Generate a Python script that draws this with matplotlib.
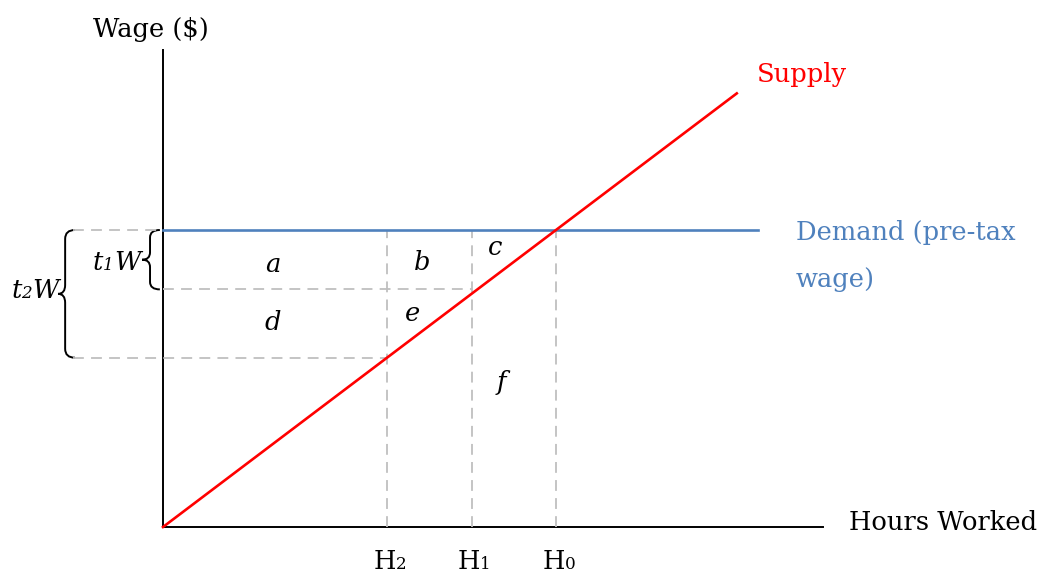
import numpy as np
import matplotlib.pyplot as plt
from matplotlib.path import Path
from matplotlib.patches import PathPatch

# valores do diagrama (unidades arbitrárias)
wage_pre = 10.0          # salário antes do imposto (demanda)
wage_t1 = 8.0            # salário líquido com imposto t1
wage_t2 = 5.7            # salário líquido com imposto t2
hours = [5.7, 7.85, 10.0]    # H2, H1, H0
hour_subs = ['2', '1', '0']
supply_end = 14.6
x_axis_end = 16.8
y_axis_end = 16.05
demand_end = 15.15

area_labels = ['a', 'b', 'c', 'd', 'e', 'f']
area_pos = [(2.8, 8.85), (6.6, 8.9), (8.45, 9.4), (2.8, 6.9), (6.35, 7.2), (8.6, 4.85)]

blue = '#4F81BD'
grey = '#BFBFBF'
fonte = ['DejaVu Serif']
plt.rcParams['font.family'] = fonte
fs = 18.5

fig = plt.figure(figsize=(10.46, 5.74), dpi=100)
ax = fig.add_axes([0, 0, 1, 1])
ax.set_xlim(-163 / 39.3, (1046 - 163) / 39.3)
ax.set_ylim(-(574 - 527) / 29.7, 527 / 29.7)
ax.axis('off')

# eixos
ax.plot([0, 0], [0, y_axis_end], color='black', lw=1.4)
ax.plot([0, x_axis_end], [0, 0], color='black', lw=1.4)

# linhas tracejadas
dash = dict(color=grey, lw=1.3, ls=(0, (6, 4)))
ax.plot([-2.3, 0], [wage_pre, wage_pre], **dash)
ax.plot([0, hours[1]], [wage_t1, wage_t1], **dash)
ax.plot([-2.3, hours[0]], [wage_t2, wage_t2], **dash)
for h in hours:
    ax.plot([h, h], [0, wage_pre], **dash)

# demanda e oferta
ax.plot([0, demand_end], [wage_pre, wage_pre], color=blue, lw=1.9)
ax.plot([0, supply_end], [0, supply_end], color='red', lw=1.9)

# rótulos
ax.text(-0.3, 16.75, 'Wage ($)', fontsize=fs, ha='center', va='center')
ax.text(17.45, 0.15, 'Hours Worked', fontsize=fs, ha='left', va='center')
ax.text(15.1, 15.25, 'Supply', fontsize=fs, color='red', ha='left', va='center')
ax.text(16.1, 9.9, 'Demand (pre-tax', fontsize=fs, color=blue, ha='left', va='center')
ax.text(16.1, 8.35, 'wage)', fontsize=fs, color=blue, ha='left', va='center')

for h, sub in zip(hours, hour_subs):
    ax.text(h + 0.22, -1.4, 'H', fontsize=fs, ha='right', va='baseline')
    ax.text(h + 0.22, -1.4, sub, fontsize=fs * 0.65, ha='left', va='baseline')

for lab, (x, y) in zip(area_labels, area_pos):
    ax.text(x, y, lab, fontsize=fs, style='italic', ha='center', va='center')


# chaves
def chave(x, y0, y1, w, tip, r=0.3):
    ym = (y0 + y1) / 2
    s = x - w
    verts = [(x, y1), (s, y1), (s, y1 - r), (s, ym + r),
             (s, ym), (s - tip, ym),
             (s, ym), (s, ym - r), (s, y0 + r),
             (s, y0), (x, y0)]
    codes = [Path.MOVETO, Path.CURVE3, Path.CURVE3, Path.LINETO,
             Path.CURVE3, Path.CURVE3,
             Path.CURVE3, Path.CURVE3, Path.LINETO,
             Path.CURVE3, Path.CURVE3]
    ax.add_patch(PathPatch(Path(verts, codes), fill=False, lw=1.4, color='black'))


chave(-0.08, wage_t1, wage_pre, 0.25, 0.2, 0.25)
chave(-2.24, wage_t2, wage_pre, 0.25, 0.18, 0.3)


def rotulo_t(x, y, sub):
    ax.text(x, y, 't', fontsize=fs, style='italic', ha='right', va='baseline')
    ax.text(x, y, sub, fontsize=fs * 0.65, style='italic', ha='left', va='baseline')
    ax.text(x + 0.28, y, 'W', fontsize=fs, style='italic', ha='left', va='baseline')


rotulo_t(-1.52, 8.65, '1')
rotulo_t(-3.6, 7.7, '2')

plt.savefig('out.png', dpi=100)
